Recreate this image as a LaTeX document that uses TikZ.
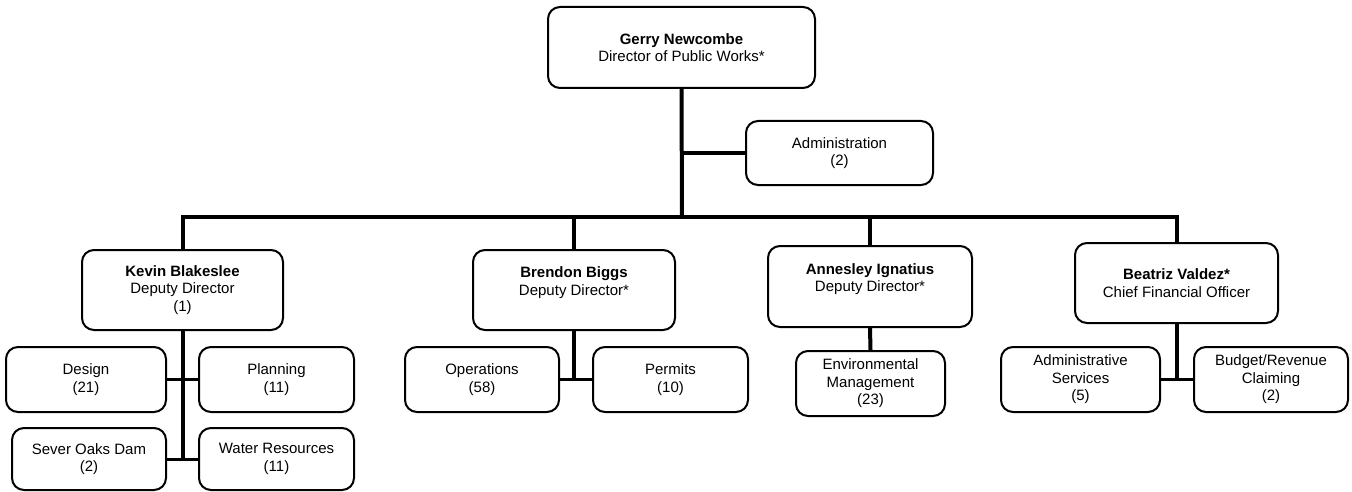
\documentclass[tikz,border=0pt]{standalone}
\usepackage{fontspec}
\setmainfont{Liberation Sans}
\begin{document}
\begin{tikzpicture}[x=1pt,y=-1pt,
  box/.style={draw, line width=2pt, rounded corners=12pt, align=center,
    inner sep=0pt, font=\fontsize{15}{17.5}\selectfont},
  dims/.style 2 args={minimum width=#1pt, minimum height=#2pt},
  mainline/.style={line width=4pt},
  subline/.style={line width=3pt}]
\useasboundingbox (0,0) rectangle (1352,492);

% director and staff office
\node[box, dims={267}{81}] (gerry) at (681.5,47.5)
  {\textbf{Gerry Newcombe}\\Director of Public Works*};
\node[box, dims={187}{64}] (admin) at (839.5,153)
  {Administration\\(2)};

% deputy directors
\node[box, dims={201}{80}] (kevin) at (182.5,290)
  {\textbf{Kevin Blakeslee}\\Deputy Director\\(1)};
\node[box, dims={202}{80}] (brendon) at (574,290)
  {\textbf{Brendon Biggs}\\Deputy Director*\\\mbox{}};
\node[box, dims={204}{81}] (annesley) at (870,286.5)
  {\textbf{Annesley Ignatius}\\Deputy Director*\\\mbox{}};
\node[box, dims={203}{80}] (beatriz) at (1176.5,283)
  {\textbf{Beatriz Valdez*}\\Chief Financial Officer};

% divisions
\node[box, dims={160}{65}] (design) at (86,379.5) {Design\\(21)};
\node[box, dims={155}{65}] (planning) at (276.5,379.5) {Planning\\(11)};
\node[box, dims={154}{62}] (sever) at (89,459) {Sever Oaks Dam\\(2)};
\node[box, dims={155}{62}] (water) at (276.5,459) {Water Resources\\(11)};
\node[box, dims={154}{65}] (operations) at (482,379.5) {Operations\\(58)};
\node[box, dims={155}{65}] (permits) at (670.5,379.5) {Permits\\(10)};
\node[box, dims={149}{65}] (env) at (870.5,383.5)
  {Environmental\\Management\\(23)};
\node[box, dims={159}{65}] (adminsvc) at (1080.5,379.5)
  {Administrative\\Services\\(5)};
\node[box, dims={154}{65}] (budget) at (1271,379.5)
  {Budget/Revenue\\Claiming\\(2)};

% main distribution bar
\coordinate (bar) at (682,217);
\draw[mainline] (gerry.south) -- (bar);
\draw[mainline] (gerry.south |- admin.west) -- (admin.west);
\draw[mainline] (kevin.north) |- (bar) -| (beatriz.north);
\draw[mainline] (brendon.north) -- (brendon.north |- bar);
\draw[mainline] (annesley.north) -- (annesley.north |- bar);

% Kevin Blakeslee's divisions
\draw[mainline] (kevin.south) -- (kevin.south |- sever.east);
\draw[subline] (design.east) -- (planning.west);
\draw[subline] (sever.east) -- (water.west);

% Brendon Biggs's divisions
\draw[mainline] (brendon.south) -- (brendon.south |- operations.east);
\draw[subline] (operations.east) -- (permits.west);

% Annesley Ignatius's division
\draw[mainline] (annesley.south) -- (env.north);

% Beatriz Valdez's divisions
\draw[mainline] (beatriz.south) -- (beatriz.south |- adminsvc.east);
\draw[subline] (adminsvc.east) -- (budget.west);
\end{tikzpicture}
\end{document}
